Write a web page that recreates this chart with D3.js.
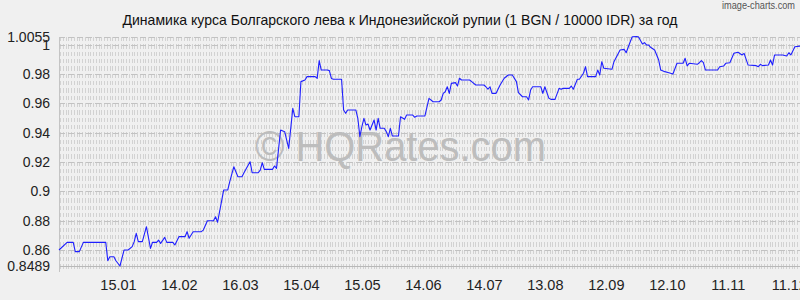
<!DOCTYPE html>
<html lang="ru">
<head>
  <meta charset="utf-8">
  <script src="https://cdn.jsdelivr.net/npm/d3@7/dist/d3.min.js"></script>
  <title>BGN / IDR</title>
  <style>
    body { margin: 0; background: #f0f0f0; }
    text { font-family: "Liberation Sans", Arial, sans-serif; }
  </style>
</head>
<body>
<script>
  // данные: смещение в днях от 17.12.2024 и курс
  var startDate = new Date(2024, 11, 17);
  var dayOffsets = [0, 4, 7, 8, 10, 12, 23, 24, 25, 27, 28, 30, 32, 34, 36, 37, 38, 39, 41, 43,
    45, 46, 48, 49, 50, 52, 53, 56, 57, 59, 62, 63, 64, 66, 70, 71, 73, 76, 77, 78,
    81, 83, 84, 86, 88, 90, 91, 94, 95, 98, 99, 100, 101, 105, 106, 107, 109, 111, 113, 115,
    116, 118, 119, 121, 122, 126, 127, 128, 129, 132, 133, 134, 135, 139, 140, 141, 142, 146, 147, 148,
    149, 150, 151, 152, 153, 155, 156, 157, 158, 160, 161, 162, 163, 164, 167, 168, 170, 171, 174, 175,
    176, 180, 182, 184, 187, 188, 189, 190, 191, 192, 193, 195, 196, 197, 198, 202, 203, 205, 209, 210,
    211, 212, 213, 215, 217, 219, 221, 223, 225, 226, 228, 230, 231, 232, 233, 237, 238, 239, 241, 242,
    244, 246, 247, 248, 251, 252, 253, 255, 256, 258, 259, 260, 264, 265, 266, 267, 268, 272, 273, 276,
    278, 279, 281, 282, 284, 285, 287, 288, 289, 290, 291, 293, 295, 296, 298, 300, 302, 304, 307, 308,
    309, 310, 314, 315, 316, 317, 318, 324, 325, 327, 328, 330, 332, 334, 336, 337, 339, 343, 344, 345,
    346, 349, 350, 351, 352, 356, 358, 359, 360, 362, 365];
  var rates = [0.8600, 0.8652, 0.8652, 0.8589, 0.8589, 0.8652, 0.8652, 0.8527, 0.8554, 0.8554, 0.8527, 0.8491, 0.8600, 0.8600, 0.8623, 0.8657, 0.8714, 0.8657, 0.8657, 0.8759,
    0.8611, 0.8652, 0.8652, 0.8668, 0.8645, 0.8686, 0.8652, 0.8652, 0.8634, 0.8691, 0.8691, 0.8725, 0.8680, 0.8725, 0.8725, 0.8736, 0.8800, 0.8800, 0.8827, 0.8789,
    0.9009, 0.9009, 0.9066, 0.9168, 0.9100, 0.9100, 0.9127, 0.9202, 0.9127, 0.9127, 0.9145, 0.9195, 0.9150, 0.9150, 0.9173, 0.9157, 0.9418, 0.9407, 0.9293, 0.9566,
    0.9509, 0.9509, 0.9748, 0.9759, 0.9782, 0.9782, 0.9770, 0.9891, 0.9827, 0.9827, 0.9823, 0.9770, 0.9764, 0.9764, 0.9555, 0.9532, 0.9555, 0.9555, 0.9498, 0.9373,
    0.9441, 0.9498, 0.9452, 0.9459, 0.9418, 0.9486, 0.9418, 0.9498, 0.9430, 0.9430, 0.9407, 0.9373, 0.9430, 0.9377, 0.9377, 0.9509, 0.9491, 0.9520, 0.9520, 0.9505,
    0.9514, 0.9514, 0.9634, 0.9611, 0.9611, 0.9623, 0.9668, 0.9679, 0.9713, 0.9668, 0.9736, 0.9741, 0.9718, 0.9771, 0.9759, 0.9759, 0.9748, 0.9725, 0.9725, 0.9713,
    0.9696, 0.9713, 0.9668, 0.9668, 0.9725, 0.9771, 0.9793, 0.9793, 0.9748, 0.9673, 0.9645, 0.9645, 0.9623, 0.9691, 0.9713, 0.9713, 0.9668, 0.9713, 0.9634, 0.9627,
    0.9627, 0.9702, 0.9696, 0.9702, 0.9702, 0.9718, 0.9696, 0.9764, 0.9764, 0.9805, 0.9850, 0.9782, 0.9782, 0.9827, 0.9793, 0.9884, 0.9839, 0.9832, 0.9884, 0.9964,
    0.9968, 0.9945, 1.0020, 1.0054, 1.0055, 1.0054, 1.0005, 1.0014, 0.9998, 0.9998, 0.9982, 0.9964, 0.9895, 0.9827, 0.9816, 0.9809, 0.9800, 0.9873, 0.9873, 0.9907,
    0.9855, 0.9873, 0.9866, 0.9877, 0.9891, 0.9877, 0.9827, 0.9827, 0.9850, 0.9855, 0.9873, 0.9877, 0.9941, 0.9948, 0.9930, 0.9941, 0.9861, 0.9857, 0.9850, 0.9866,
    0.9857, 0.9861, 0.9895, 0.9861, 0.9930, 0.9930, 0.9923, 0.9945, 0.9930, 0.9986, 0.9991];

  var xTickDates = ["2025-01-15", "2025-02-14", "2025-03-16", "2025-04-15", "2025-05-15", "2025-06-14",
    "2025-07-14", "2025-08-13", "2025-09-12", "2025-10-12", "2025-11-11", "2025-12-11"];
  var yTickValues = [0.8489, 0.86, 0.88, 0.9, 0.92, 0.94, 0.96, 0.98, 1, 1.0055];
  var yTickLabels = ["0.8489", "0.86", "0.88", "0.9", "0.92", "0.94", "0.96", "0.98", "1", "1.0055"];

  var title = "Динамика курса Болгарского лева к Индонезийской рупии (1 BGN / 10000 IDR) за год";

  var width = 800, height = 300;
  var plotLeft = 59, plotRight = 801, plotTop = 36.6, plotBottom = 266.3;

  var svg = d3.select("body").append("svg")
    .attr("width", width).attr("height", height)
    .style("display", "block").style("background", "#f0f0f0");

  var parseDate = d3.timeParse("%Y-%m-%d");
  var x = d3.scaleTime()
    .domain([startDate, d3.timeDay.offset(startDate, 365)])
    .range([plotLeft, plotRight]);
  var y = d3.scaleLinear()
    .domain([0.8489, 1.0055])
    .range([plotBottom, plotTop]);

  var data = dayOffsets.map(function (d, i) {
    return { date: d3.timeDay.offset(startDate, d), value: rates[i] };
  });

  // фоновая штриховка
  var grid = svg.append("g").attr("shape-rendering", "crispEdges");
  grid.selectAll("line.v")
    .data(d3.range(plotLeft + 1, 800, 2.75))
    .enter().append("line")
    .attr("class", "v")
    .attr("x1", function (d) { return Math.round(d) + 0.5; })
    .attr("x2", function (d) { return Math.round(d) + 0.5; })
    .attr("y1", 37).attr("y2", 272)
    .attr("stroke", "#d2d2d2")
    .attr("stroke-dasharray", "4.3,3.03");

  grid.selectAll("line.h")
    .data(yTickValues.slice(1))
    .enter().append("line")
    .attr("class", "h")
    .attr("x1", plotLeft).attr("x2", 800)
    .attr("y1", function (d) { return Math.round(y(d)) + 0.5; })
    .attr("y2", function (d) { return Math.round(y(d)) + 0.5; })
    .attr("stroke", "#c2c2c2")
    .attr("stroke-dasharray", "6,3");

  grid.append("line")
    .attr("x1", plotLeft).attr("x2", 800)
    .attr("y1", Math.round(y(0.8489)) + 0.5).attr("y2", Math.round(y(0.8489)) + 0.5)
    .attr("stroke", "#b8b8b8");
  grid.append("line")
    .attr("x1", plotLeft + 0.5).attr("x2", plotLeft + 0.5)
    .attr("y1", 37).attr("y2", 272)
    .attr("stroke", "#c4c4c4");

  // водяной знак
  svg.append("text")
    .attr("x", 255).attr("y", 161)
    .attr("textLength", 291).attr("lengthAdjust", "spacingAndGlyphs")
    .style("font-size", "42px")
    .attr("fill", "#bdbdbd")
    .text("© HQRates.com");

  // линия курса
  var line = d3.line()
    .x(function (d) { return x(d.date); })
    .y(function (d) { return y(d.value); });

  svg.append("path")
    .datum(data)
    .attr("d", line)
    .attr("fill", "none")
    .attr("stroke", "#1f1fff")
    .attr("stroke-width", 1.1)
    .attr("stroke-linejoin", "round");

  // оси
  var xAxis = d3.axisBottom(x)
    .tickValues(xTickDates.map(parseDate))
    .tickFormat(d3.timeFormat("%d.%m"))
    .tickSize(0).tickPadding(0);
  var gx = svg.append("g").attr("transform", "translate(0,279)").call(xAxis);
  gx.select(".domain").remove();
  gx.selectAll("text").style("font-size", "14.5px").attr("fill", "#222").attr("dy", "0.75em");

  var yAxis = d3.axisLeft(y)
    .tickValues(yTickValues)
    .tickFormat(function (d, i) { return yTickLabels[i]; })
    .tickSize(0).tickPadding(0);
  var gy = svg.append("g").attr("transform", "translate(50,0)").call(yAxis);
  gy.select(".domain").remove();
  gy.selectAll("text").style("font-size", "14px").attr("fill", "#222");

  svg.append("text")
    .attr("x", 400).attr("y", 25)
    .attr("text-anchor", "middle")
    .attr("textLength", 555).attr("lengthAdjust", "spacingAndGlyphs")
    .style("font-size", "14.5px")
    .attr("fill", "#111")
    .text(title);

  svg.append("text")
    .attr("x", 795).attr("y", 9)
    .attr("text-anchor", "end")
    .attr("textLength", 73).attr("lengthAdjust", "spacingAndGlyphs")
    .style("font-size", "10px")
    .attr("fill", "#555")
    .text("image-charts.com");
</script>
</body>
</html>
